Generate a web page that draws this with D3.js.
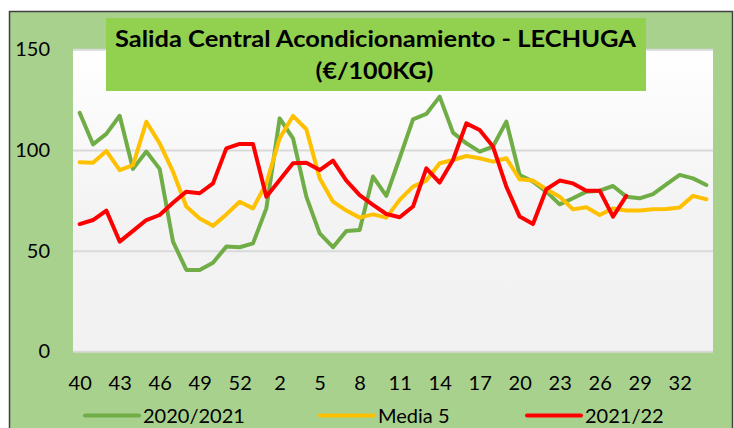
<!DOCTYPE html>
<html>
<head>
<meta charset="utf-8">
<style>
  body { margin: 0; background: #fff; }
  svg { display: block; font-family: Lato, "Open Sans", sans-serif; }
</style>
</head>
<body>
<script src="https://d3js.org/d3.v7.min.js"></script>
<script>
// week numbers on the x axis (40-53 of 2020, then 1-34)
const weeks = [40, 41, 42, 43, 44, 45, 46, 47, 48, 49, 50, 51, 52, 53,
  1, 2, 3, 4, 5, 6, 7, 8, 9, 10, 11, 12, 13, 14, 15, 16, 17, 18, 19, 20,
  21, 22, 23, 24, 25, 26, 27, 28, 29, 30, 31, 32, 33, 34];
const weekTicks = [40, 43, 46, 49, 52, 2, 5, 8, 11, 14, 17, 20, 23, 26, 29, 32];
const yTicks = [0, 50, 100, 150];

const season2021 = [118.5, 102.8, 108, 117, 90.6, 99.2, 90.6, 54.5, 40.4, 40.4, 44, 52,
  51.7, 53.6, 71, 115.7, 105.8, 76.8, 58.6, 51.7, 59.8, 60.3, 86.8, 77.2,
  96, 115.2, 117.9, 126.5, 108.6, 103.3, 99.2, 101.7, 114.1, 87.6, 84.3, 79.3,
  73, 76, 79.3, 79.8, 82.1, 76.8, 76, 78.1, 82.9, 87.6, 85.9, 82.6];
const media5 = [93.9, 93.7, 99.5, 90, 92.5, 114, 103.3, 89.2, 71.9, 66, 62.3, 68,
  74.3, 71, 83.4, 105.8, 116.9, 110.3, 85.9, 74.3, 69.9, 66.4, 68, 66.4,
  75.2, 81.8, 84.8, 93.4, 95, 97, 95.9, 94.2, 95.9, 85.4, 84.8, 80.5,
  76.8, 70.5, 71.5, 67.7, 71, 69.9, 69.9, 70.5, 70.7, 71.4, 77.2, 75.5];
const season2122 = [63.2, 65.2, 69.9, 54.5, 59.8, 65.2, 67.7, 73.8, 79.3, 78.5, 83.4, 100.8,
  103, 103, 76.8, 85.1, 93.4, 93.7, 90, 94.7, 84.8, 77.6, 72.7, 68.2,
  66.6, 71.9, 90.9, 83.8, 95, 113.2, 109.9, 101.7, 81.8, 66.9, 63.2, 80.5,
  84.8, 83.4, 79.8, 79.8, 66.9, 77.2, null, null, null, null, null, null];

const seriesNames = ["2020/2021", "Media 5", "2021/22"];
const seriesColors = ["#70ad47", "#ffc000", "#ff0000"];
const seriesValues = [season2021, media5, season2122];

const W = 734, H = 428;
const plot = {left: 73, right: 713, top: 49.3, bottom: 351.3};

const svg = d3.select("body").append("svg")
  .attr("width", W).attr("height", H);

// chart frame
svg.append("rect")
  .attr("x", 9.5).attr("y", 11.5).attr("width", 723).attr("height", 430)
  .attr("fill", "#a9d18e").attr("stroke", "#404040").attr("stroke-width", 1.5);

const defs = svg.append("defs");
const grad = defs.append("linearGradient").attr("id", "plotbg")
  .attr("x1", 0).attr("y1", 0).attr("x2", 0).attr("y2", 1);
grad.append("stop").attr("offset", "0%").attr("stop-color", "#ffffff");
grad.append("stop").attr("offset", "55%").attr("stop-color", "#f3f3f3");
grad.append("stop").attr("offset", "100%").attr("stop-color", "#f2f2f2");

svg.append("rect")
  .attr("x", plot.left).attr("y", plot.top)
  .attr("width", plot.right - plot.left).attr("height", plot.bottom - plot.top)
  .attr("fill", "url(#plotbg)");

const x = d3.scalePoint().domain(weeks).range([plot.left, plot.right]).padding(0.5);
const y = d3.scaleLinear().domain([0, 150]).range([plot.bottom, plot.top]);

// gridlines
svg.append("g")
  .attr("transform", `translate(${plot.left},0)`)
  .call(d3.axisLeft(y).tickValues(yTicks).tickSize(-(plot.right - plot.left)).tickFormat(""))
  .call(g => g.select(".domain").remove())
  .call(g => g.selectAll("line").attr("stroke", "#d9d9d9").attr("stroke-width", 2));

// y axis labels
svg.append("g")
  .attr("transform", `translate(${plot.left},0)`)
  .call(d3.axisLeft(y).tickValues(yTicks).tickSize(0).tickPadding(23))
  .call(g => g.select(".domain").remove())
  .call(g => g.selectAll("text").attr("fill", "#000")
    .style("font-size", "20px").style("font-family", "Lato, sans-serif"));

// x axis labels
svg.append("g")
  .attr("transform", `translate(0,${plot.bottom})`)
  .call(d3.axisBottom(x).tickValues(weekTicks).tickSize(0).tickPadding(25))
  .call(g => g.select(".domain").remove())
  .call(g => g.selectAll("text").attr("fill", "#000")
    .style("font-size", "20px").style("font-family", "Lato, sans-serif"));

// series lines
const line = d3.line()
  .defined(d => d != null)
  .x((d, i) => x(weeks[i]))
  .y(d => y(d));

svg.append("g").selectAll("path")
  .data(seriesValues)
  .enter().append("path")
  .attr("d", d => line(d))
  .attr("fill", "none")
  .attr("stroke", (d, i) => seriesColors[i])
  .attr("stroke-width", 4)
  .attr("stroke-linejoin", "round")
  .attr("stroke-linecap", "round");

// title
svg.append("rect")
  .attr("x", 106).attr("y", 18).attr("width", 540).attr("height", 73)
  .attr("fill", "#92d050");

const title = svg.append("text")
  .attr("text-anchor", "middle")
  .style("font-weight", "bold").style("font-size", "22.5px").attr("fill", "#000");
title.append("tspan").attr("x", 375.5).attr("y", 47)
  .attr("textLength", 521).attr("lengthAdjust", "spacingAndGlyphs")
  .text("Salida Central Acondicionamiento - LECHUGA");
title.append("tspan").attr("x", 374.5).attr("y", 79)
  .attr("textLength", 118).attr("lengthAdjust", "spacingAndGlyphs")
  .text("(€/100KG)");

// legend
const legendX = [85, 320, 527];
const legend = svg.append("g").selectAll("g")
  .data(seriesNames)
  .enter().append("g")
  .attr("transform", (d, i) => `translate(${legendX[i]},415.5)`);
legend.append("line")
  .attr("x1", 0).attr("x2", 54).attr("y1", 0).attr("y2", 0)
  .attr("stroke", (d, i) => seriesColors[i]).attr("stroke-width", 4)
  .attr("stroke-linecap", "round");
legend.append("text")
  .attr("x", 58).attr("y", 7)
  .style("font-size", "20px").attr("fill", "#000")
  .text(d => d);
</script>
</body>
</html>
